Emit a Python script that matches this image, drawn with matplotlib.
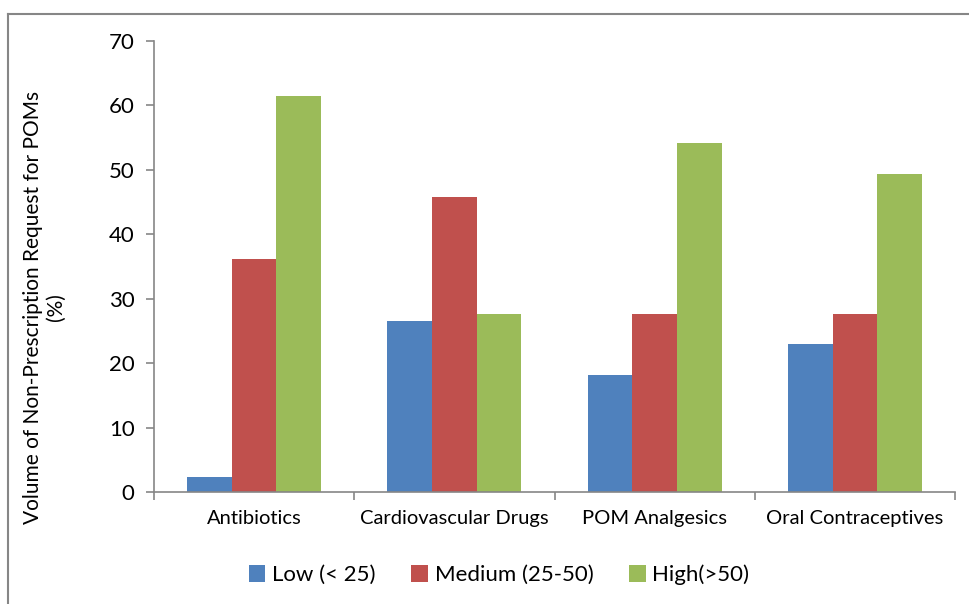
import numpy as np
import matplotlib.pyplot as plt
from matplotlib.lines import Line2D
from matplotlib.patches import Patch

categories = ['Antibiotics', 'Cardiovascular Drugs', 'POM Analgesics', 'Oral Contraceptives']
low = [2.4, 26.5, 18.1, 22.9]
medium = [36.1, 45.8, 27.7, 27.7]
high = [61.4, 27.7, 54.2, 49.4]
series_names = ['Low (< 25)', 'Medium (25-50)', 'High(>50)']
colors = ['#4F81BD', '#C0504D', '#9BBB59']

plt.rcParams['font.family'] = ['Lato', 'DejaVu Sans']

fig = plt.figure(figsize=(9.69, 6.04), dpi=100)
ax = fig.add_axes([154/969, 1-492/604, (955-154)/969, (492-41)/604])

x = np.arange(len(categories))
w = 0.223
for i, (vals, col) in enumerate(zip([low, medium, high], colors)):
    ax.bar(x + (i-1)*w, vals, width=w, color=col, label=series_names[i])

ax.set_xlim(-0.5, len(categories)-0.5)
ax.set_ylim(0, 70)
ax.set_yticks(range(0, 71, 10))
ax.set_xticks(x)
ax.set_xticklabels(categories, fontsize=14.5)
ax.set_xticks(np.arange(-0.5, len(categories)), minor=True)
ax.tick_params(axis='x', which='major', length=0, pad=13)
ax.tick_params(axis='x', which='minor', length=6, color='#868686', width=1.2)
ax.tick_params(axis='y', length=6, color='#868686', width=1.2, labelsize=16, pad=8)
for s in ['top', 'right']:
    ax.spines[s].set_visible(False)
for s in ['left', 'bottom']:
    ax.spines[s].set_color('#868686')
    ax.spines[s].set_linewidth(1.2)

ax.set_ylabel('Volume of Non-Prescription Request for POMs\n(%)', fontsize=15,
              linespacing=1.2)
ax.yaxis.set_label_coords((66-154)/801, 0.41)

handles = [Patch(facecolor=c) for c in colors]
fig.legend(handles, series_names, loc='center', bbox_to_anchor=(499/969, 1-575/604),
           ncol=3, frameon=False, fontsize=16, handlelength=0.75, handleheight=0.75,
           handletextpad=0.3, columnspacing=1.6)

# chart border
fig.add_artist(Line2D([8/969, 1], [1-14/604, 1-14/604], color='#868686', lw=1.5))
fig.add_artist(Line2D([8/969, 8/969], [0, 1-14/604], color='#868686', lw=1.5))

fig.savefig('out.png', dpi=100)
